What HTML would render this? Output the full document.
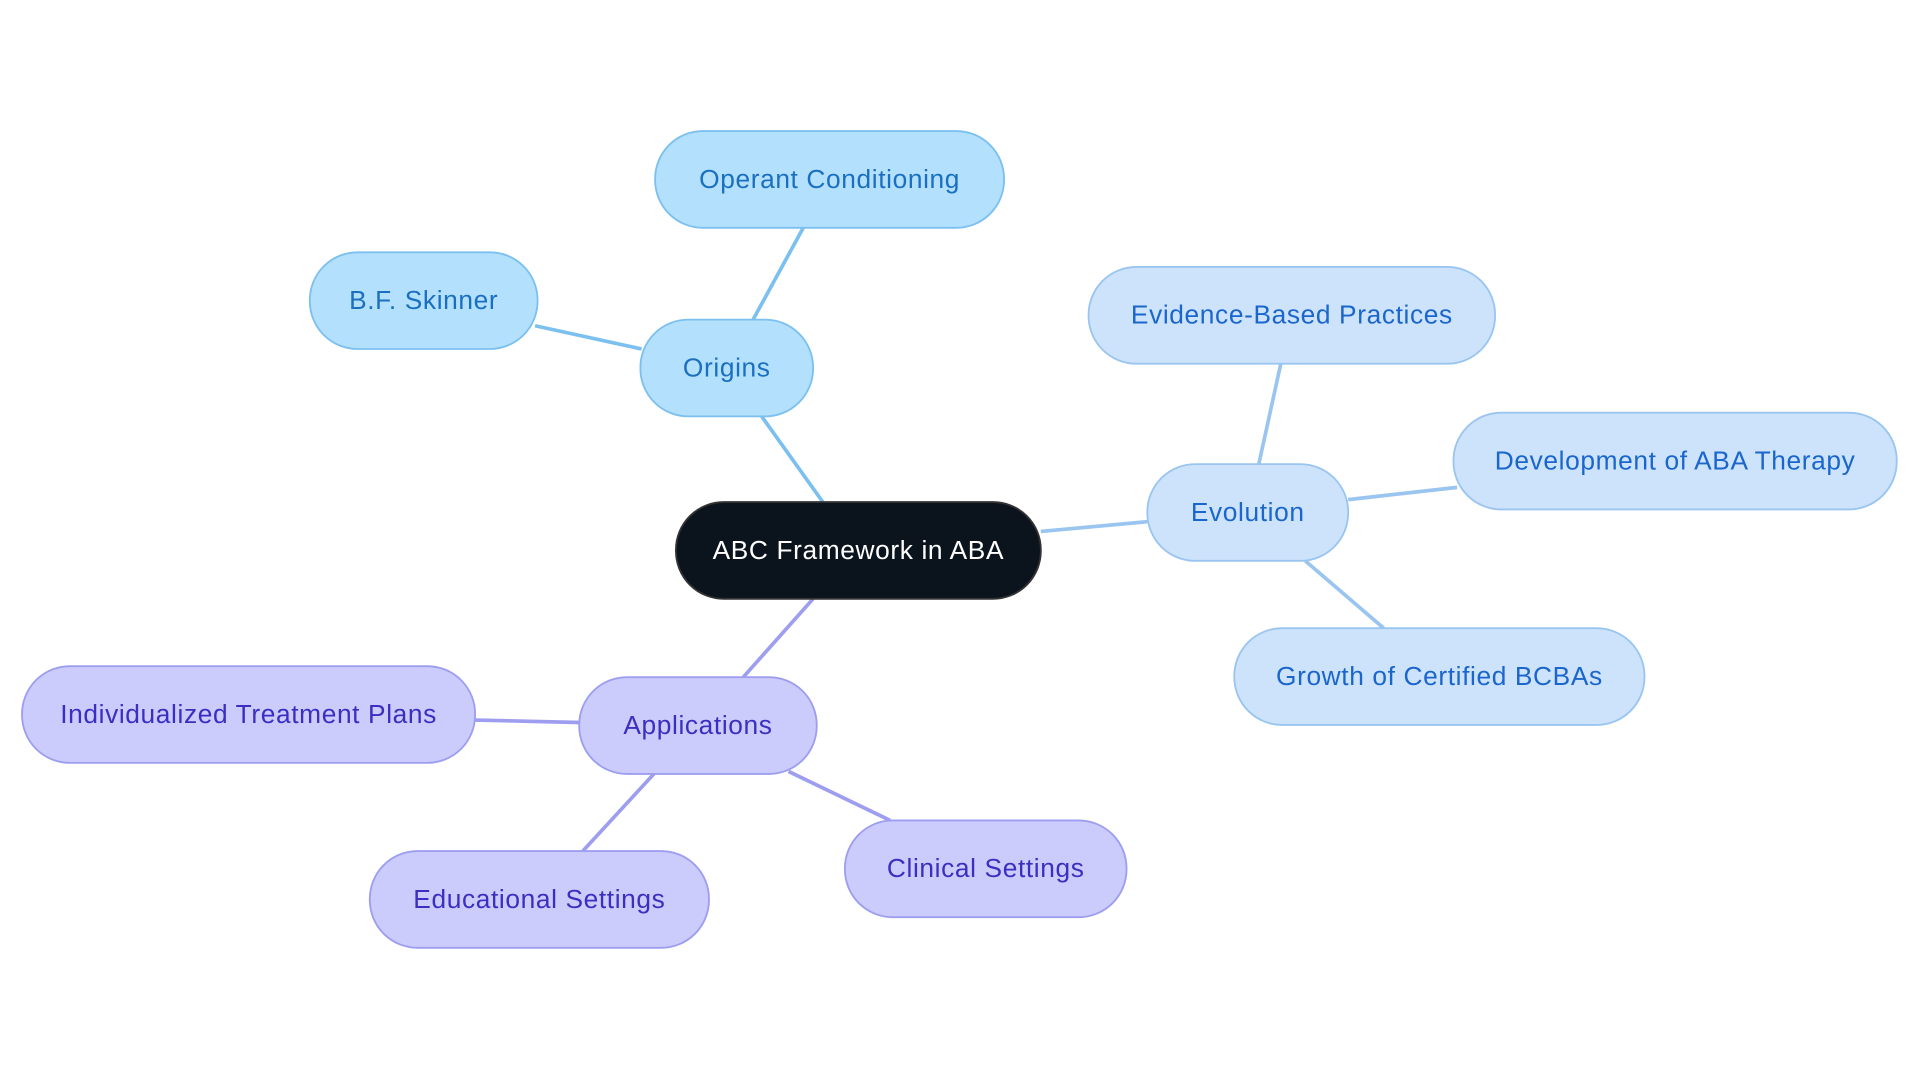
<!DOCTYPE html>
<html><head><meta charset="utf-8"><style>
html,body{margin:0;padding:0;background:#fff;width:1920px;height:1083px;overflow:hidden}
text{font-family:"Liberation Sans",sans-serif;font-size:21.5px;letter-spacing:0.5px;text-anchor:middle;dominant-baseline:central}
</style></head><body>
<svg width="1920" height="1083" viewBox="0 0 1568 884.4" xmlns="http://www.w3.org/2000/svg">
<g stroke-width="3" fill="none">
<line x1="672" y1="410" x2="622" y2="340" stroke="#7cc0f0"/>
<line x1="615" y1="261" x2="656" y2="186" stroke="#7cc0f0"/>
<line x1="524" y1="285" x2="437" y2="266" stroke="#7cc0f0"/>
<line x1="850" y1="434" x2="937" y2="426" stroke="#9ac5f0"/>
<line x1="1028" y1="379" x2="1046" y2="297" stroke="#9ac5f0"/>
<line x1="1101" y1="408" x2="1190" y2="398" stroke="#9ac5f0"/>
<line x1="1066" y1="458" x2="1130" y2="513" stroke="#9ac5f0"/>
<line x1="664" y1="489" x2="607" y2="553" stroke="#9e9ef0"/>
<line x1="473" y1="590" x2="388" y2="588" stroke="#9e9ef0"/>
<line x1="534" y1="632" x2="476" y2="695" stroke="#9e9ef0"/>
<line x1="644" y1="630" x2="727" y2="670" stroke="#9e9ef0"/>
</g>
<g stroke-width="1.5">
<rect x="552" y="410" width="298" height="79" rx="39" fill="#0b141d" stroke="#333"/>
<g fill="#b3e0fd" stroke="#7cc0f0">
<rect x="523" y="261" width="141" height="79" rx="39"/>
<rect x="535" y="107" width="285" height="79" rx="39"/>
<rect x="253" y="206" width="186" height="79" rx="39"/>
</g>
<g fill="#cce3fb" stroke="#9ac5f0">
<rect x="937" y="379" width="164" height="79" rx="39"/>
<rect x="889" y="218" width="332" height="79" rx="39"/>
<rect x="1187" y="337" width="362" height="79" rx="39"/>
<rect x="1008" y="513" width="335" height="79" rx="39"/>
</g>
<g fill="#cbcbfc" stroke="#9e9ef0">
<rect x="473" y="553" width="194" height="79" rx="39"/>
<rect x="18" y="544" width="370" height="79" rx="39"/>
<rect x="302" y="695" width="277" height="79" rx="39"/>
<rect x="690" y="670" width="230" height="79" rx="39"/>
</g>
</g>
<text x="701" y="449" fill="#fff">ABC Framework in ABA</text>
<g fill="#1a6fc0">
<text x="593.5" y="300">Origins</text>
<text x="677.5" y="146">Operant Conditioning</text>
<text x="346" y="245">B.F. Skinner</text>
</g>
<g fill="#1a66cc">
<text x="1019" y="418">Evolution</text>
<text x="1055" y="257">Evidence-Based Practices</text>
<text x="1368" y="376">Development of ABA Therapy</text>
<text x="1175.5" y="552">Growth of Certified BCBAs</text>
</g>
<g fill="#3a2fc0">
<text x="570" y="592">Applications</text>
<text x="203" y="583">Individualized Treatment Plans</text>
<text x="440.5" y="734">Educational Settings</text>
<text x="805" y="709">Clinical Settings</text>
</g>
</svg>
</body></html>
